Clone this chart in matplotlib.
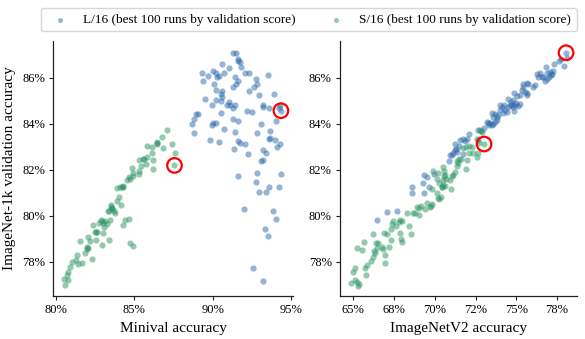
import matplotlib
matplotlib.use("Agg")
import matplotlib.pyplot as plt
from matplotlib.ticker import FuncFormatter, FixedLocator

plt.rcParams['font.family'] = ['Liberation Serif', 'DejaVu Serif']
plt.rcParams['mathtext.fontset'] = 'stix'

# ---------------- data ----------------
# Left panel: L/16 (minival accuracy, ImageNet-1k val accuracy)
l16_minival = [91.31, 91.46, 91.63, 91.57, 91.74, 91.82, 90.59, 91.02, 90.04, 90.21,
               90.36, 90.29, 89.30, 89.72, 90.68, 89.36, 90.08, 92.06, 92.27, 91.40,
               91.61, 91.48, 91.31, 92.76, 93.50, 92.84, 92.59, 92.33, 92.91, 93.86,
               90.19, 90.57, 90.51, 90.57, 90.51, 90.21, 89.51, 89.92, 91.02, 91.10,
               90.93, 91.42, 91.31, 90.53, 92.16, 92.50, 93.18, 93.22, 93.54, 94.33,
               94.29, 94.18, 93.99, 88.91, 89.04, 88.81, 88.66, 88.83, 89.93, 89.99,
               90.21, 90.68, 91.31, 91.57, 91.42, 93.08, 92.80, 93.65, 93.59, 93.63,
               93.97, 94.24, 94.07, 89.83, 90.36, 91.63, 91.70, 92.06, 91.36, 92.23,
               93.18, 93.39, 93.08, 93.22, 91.61, 92.80, 92.76, 94.35, 93.54, 93.39,
               92.93, 94.20, 91.99, 93.80, 93.99, 93.33, 93.52, 92.55, 93.22]
l16_val_a = [87.10, 87.06, 86.80, 86.74, 86.70, 86.48, 86.60, 86.44, 86.29, 86.19,
             86.07, 86.02, 86.22, 86.10, 86.22, 85.84, 85.73, 86.23, 86.23, 86.02,
             85.84, 85.71, 85.61, 85.93, 86.13, 85.71, 85.61, 85.42, 85.25, 85.29,
             85.47, 85.44, 85.29, 85.15, 85.00, 85.03, 85.09, 84.80, 84.96, 84.81,
             84.80, 84.83, 84.68, 84.48, 84.57, 84.52, 84.81, 84.71, 84.67, 84.57,
             84.77, 84.67, 84.13, 84.42, 84.42, 84.23, 83.99, 83.58, 83.94, 84.02,
             84.02, 83.78, 84.19, 84.12, 83.65, 83.99, 83.61, 83.68, 83.35, 83.38,
             83.29, 83.10, 82.97, 83.29, 83.22, 83.26, 83.15, 83.12, 82.89, 82.68,
             82.86, 82.71, 82.39, 82.42, 81.74, 81.84, 81.48, 81.80, 81.23, 81.05,
             81.05, 81.26, 80.29, 80.22, 79.86, 79.41, 79.13, 77.71, 77.18]

# Left panel: S/16 (minival accuracy, ImageNet-1k val accuracy)
s16_minival = [87.09, 86.79, 86.43, 86.47, 86.15, 85.79, 86.81, 86.13, 85.79, 85.58,
               85.33, 85.75, 85.41, 86.18, 84.86, 85.28, 84.90, 84.94, 84.69, 85.33,
               84.56, 84.31, 84.10, 83.93, 84.27, 84.01, 83.88, 84.14, 83.52, 83.59,
               83.71, 83.78, 83.35, 83.16, 83.46, 83.25, 83.01, 82.78, 83.08, 82.35,
               82.61, 82.48, 83.03, 82.57, 82.97, 83.37, 82.08, 82.18, 82.01, 81.97,
               81.89, 81.55, 81.34, 81.29, 81.44, 81.65, 82.29, 81.02, 80.91, 80.80,
               80.70, 80.53, 80.59, 80.78, 84.69, 84.39, 84.27, 84.73, 84.90, 82.89,
               87.38, 87.60, 87.56, 86.22, 83.52, 83.60, 82.05, 82.55, 84.25, 84.70,
               85.62, 86.45, 82.95, 83.40]
s16_val_a = [83.73, 83.41, 83.22, 83.12, 82.97, 83.03, 82.93, 82.71, 82.54, 82.49,
             82.42, 82.25, 82.16, 82.02, 82.06, 81.96, 81.87, 81.73, 81.67, 81.81,
             81.55, 81.29, 81.23, 81.20, 81.26, 80.80, 80.65, 80.47, 80.47, 80.32,
             80.22, 80.10, 80.22, 79.78, 79.81, 79.64, 79.70, 79.67, 79.49, 79.58,
             79.28, 79.28, 79.26, 78.94, 78.71, 78.94, 79.09, 78.89, 78.65, 78.54,
             78.36, 78.89, 78.29, 78.07, 77.89, 77.93, 78.13, 78.00, 77.78, 77.57,
             77.42, 77.23, 76.99, 77.20, 79.87, 79.81, 79.60, 78.83, 78.68, 79.81,
             83.12, 82.74, 82.19, 82.42, 80.40, 80.28, 78.60, 79.30, 81.27, 81.62,
             82.45, 83.18, 79.76, 80.20]

# Right panel: L/16 (ImageNetV2 accuracy, ImageNet-1k val accuracy)
l16_v2 = [66.43, 67.05, 67.66, 68.58, 68.58, 69.34, 69.26, 69.34, 69.54, 69.66,
          69.95, 70.93, 70.89, 71.04, 71.14, 71.24, 71.30, 71.34, 71.24, 71.55,
          71.75, 71.85, 71.96, 72.12, 71.51, 71.75, 72.67, 72.81, 73.02, 73.18,
          73.28, 73.35, 73.39, 73.49, 73.59, 73.69, 73.80, 73.49, 73.69, 73.59,
          73.80, 73.90, 74.00, 74.10, 74.25, 74.00, 74.16, 74.31, 74.41, 74.51,
          74.61, 74.72, 74.78, 74.86, 74.94, 75.13, 75.23, 74.51, 74.78, 74.65,
          74.98, 74.86, 75.06, 75.23, 75.33, 75.43, 75.53, 75.64, 75.68, 75.74,
          75.64, 75.39, 76.05, 76.15, 76.35, 76.45, 76.25, 76.56, 76.66, 76.76,
          76.86, 76.90, 76.82, 77.07, 77.17, 77.23, 77.11, 77.03, 77.31, 77.64,
          77.72, 77.93, 78.05, 78.09]
l16_val_b = [79.81, 80.18, 80.22, 81.23, 81.00, 80.97, 81.44, 81.77, 81.70, 81.23,
             81.81, 82.64, 82.39, 82.64, 82.71, 82.86, 82.89, 82.78, 83.12, 83.29,
             83.32, 83.26, 83.36, 83.55, 83.03, 82.68, 83.75, 83.70, 83.80, 84.09,
             84.04, 83.94, 84.02, 83.94, 83.99, 84.09, 84.16, 84.45, 84.42, 84.30,
             84.28, 84.38, 84.60, 84.74, 84.81, 84.80, 84.48, 84.60, 84.52, 84.74,
             84.80, 84.81, 84.74, 84.57, 84.80, 84.77, 84.86, 85.09, 85.03, 84.96,
             84.91, 85.32, 85.20, 85.25, 85.47, 85.61, 85.39, 85.35, 85.25, 85.75,
             85.78, 85.73, 85.61, 85.68, 86.02, 86.19, 86.16, 86.05, 86.02, 85.87,
             85.94, 86.19, 86.45, 86.26, 86.16, 86.31, 86.12, 86.05, 86.60, 86.74,
             86.80, 86.51, 87.09, 86.84]

# Right panel: S/16 (ImageNetV2 accuracy, ImageNet-1k val accuracy)
s16_v2 = [64.84, 65.10, 65.21, 65.37, 65.31, 65.00, 65.10, 65.78, 65.72, 65.82,
          65.21, 65.55, 65.68, 66.09, 66.19, 66.33, 66.27, 66.39, 66.54, 66.47,
          66.74, 66.84, 66.19, 66.94, 66.94, 67.21, 67.29, 66.88, 67.05, 67.31,
          67.42, 67.35, 67.62, 67.86, 67.97, 67.82, 67.86, 67.93, 67.97, 68.31,
          68.44, 68.52, 68.68, 68.79, 68.89, 69.05, 69.13, 69.05, 69.40, 69.50,
          69.75, 69.81, 70.22, 70.11, 69.87, 70.22, 70.16, 70.28, 70.44, 70.52,
          70.48, 70.56, 70.63, 70.69, 69.81, 69.71, 70.28, 70.36, 70.42, 70.63,
          70.48, 70.56, 70.97, 70.93, 71.04, 71.14, 71.24, 71.38, 71.44, 71.38,
          71.51, 71.59, 71.91, 71.99, 71.75, 71.91, 72.12, 72.26, 72.12, 72.32,
          72.57, 72.63, 72.57, 72.67, 72.73, 73.02, 72.77, 72.88]
s16_val_b = [77.09, 77.20, 77.13, 77.03, 76.94, 77.54, 77.74, 77.42, 77.71, 77.86,
             78.61, 78.50, 78.87, 78.04, 78.22, 78.36, 78.48, 78.80, 78.83, 78.58,
             78.65, 78.54, 79.20, 78.29, 77.96, 78.62, 78.94, 79.26, 79.19, 79.41,
             79.78, 79.64, 79.55, 79.81, 79.78, 79.74, 79.23, 79.01, 78.84, 80.13,
             79.55, 79.20, 80.10, 80.10, 80.39, 80.32, 80.42, 80.03, 80.28, 80.57,
             80.42, 80.51, 80.76, 81.00, 81.94, 81.87, 81.62, 81.41, 81.26, 81.33,
             82.13, 81.96, 81.77, 81.58, 81.15, 80.39, 80.71, 80.80, 81.26, 81.29,
             81.55, 81.73, 81.16, 81.55, 81.73, 81.77, 81.91, 82.16, 82.28, 82.39,
             82.45, 82.49, 82.02, 82.42, 82.93, 82.97, 83.03, 82.97, 82.74, 82.71,
             82.57, 82.71, 83.36, 83.29, 83.15, 83.12, 83.72, 83.65]

# highlighted runs (red circles)
circle_minival = [87.56, 94.33]
circle_val_a = [82.19, 84.57]
circle_v2 = [73.02, 78.05]
circle_val_b = [83.12, 87.09]

labels = ["L/16 (best 100 runs by validation score)",
          "S/16 (best 100 runs by validation score)"]
left_xticks = [80, 85, 90, 95]
right_xticks = [65, 67.5, 70, 72.5, 75, 77.5]
yticks = [78, 80, 82, 84, 86]

# ---------------- style ----------------
blue = '#2c69aa'
green = '#2a9463'
alpha = 0.5
msize = 20

fig = plt.figure(figsize=(5.85, 3.39), dpi=100)
axL = fig.add_axes([0.0911, 0.1268, 0.4098, 0.7522])
axR = fig.add_axes([0.5812, 0.1268, 0.4051, 0.7522])

pct = FuncFormatter(lambda v, p: f"{v:.0f}%")

h1 = axL.scatter(l16_minival, l16_val_a, s=msize, color=blue, alpha=alpha, linewidths=0, label=labels[0])
h2 = axL.scatter(s16_minival, s16_val_a, s=msize, color=green, alpha=alpha, linewidths=0, label=labels[1])
axL.scatter(circle_minival, circle_val_a, s=110, facecolors='none', edgecolors='red', linewidths=1.6)

axR.scatter(l16_v2, l16_val_b, s=msize, color=blue, alpha=alpha, linewidths=0)
axR.scatter(s16_v2, s16_val_b, s=msize, color=green, alpha=alpha, linewidths=0)
axR.scatter(circle_v2, circle_val_b, s=110, facecolors='none', edgecolors='red', linewidths=1.6)

axL.set_xlim(79.85, 95.1)
axR.set_xlim(64.18, 78.72)
for ax in (axL, axR):
    ax.set_ylim(76.51, 87.60)
    ax.yaxis.set_major_locator(FixedLocator(yticks))
    ax.yaxis.set_major_formatter(pct)
    ax.xaxis.set_major_formatter(pct)
    ax.spines['top'].set_visible(False)
    ax.spines['right'].set_visible(False)
    for sp in ('left', 'bottom'):
        ax.spines[sp].set_linewidth(0.9)
        ax.spines[sp].set_color('#222222')
    ax.tick_params(labelsize=9, length=3, width=0.8, color='#222222', pad=3)

axL.xaxis.set_major_locator(FixedLocator(left_xticks))
axR.xaxis.set_major_locator(FixedLocator(right_xticks))

axL.set_xlabel("Minival accuracy", fontsize=11)
axR.set_xlabel("ImageNetV2 accuracy", fontsize=11)
axL.set_ylabel("ImageNet-1k validation accuracy", fontsize=11)

leg = fig.legend(handles=[h1, h2], labels=labels, loc='center', bbox_to_anchor=(0.528, 0.9414),
                 ncol=2, fontsize=9.5, frameon=True, fancybox=True, edgecolor='#cccccc',
                 scatterpoints=1, markerscale=0.8)
for lh in leg.legend_handles:
    lh.set_alpha(0.5)

fig.savefig("out.png", dpi=100)
